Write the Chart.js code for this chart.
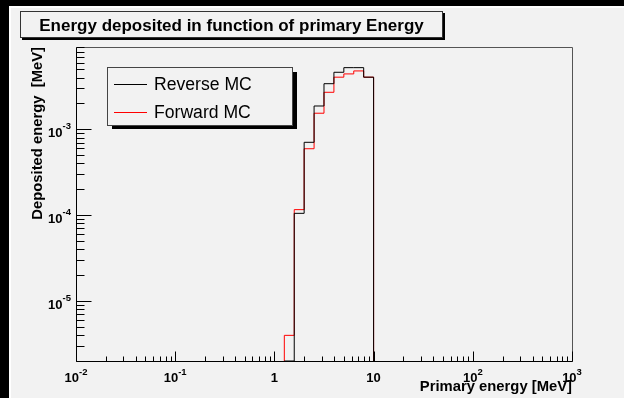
<!DOCTYPE html>
<html><head><meta charset="utf-8">
<script src="https://cdn.jsdelivr.net/npm/chart.js@4/dist/chart.umd.min.js"></script>
<style>html,body{margin:0;padding:0;background:#000;}canvas{display:block;}</style>
</head><body>
<div style="width:624px;height:398px;"><canvas id="c" width="624" height="398"></canvas></div>
<script>
// ---- data ----
const chartTitle = 'Energy deposited in function of primary Energy';
const xAxisTitle = 'Primary energy [MeV]';
const yAxisTitle = 'Deposited energy  [MeV]';
const seriesNames = ['Reverse MC', 'Forward MC'];
// bin edges (MeV) of the non-empty bins
const binEdges = [1.259, 1.585, 1.995, 2.512, 3.162, 3.981, 5.012, 6.310, 7.943, 10.0];
// deposited energy per bin (MeV)
const reverseMC = [0, 1.05e-4, 7.06e-4, 1.87e-3, 3.40e-3, 4.62e-3, 5.23e-3, 5.23e-3, 4.05e-3];
const forwardMC = [3.98e-6, 1.16e-4, 5.94e-4, 1.54e-3, 2.70e-3, 4.05e-3, 4.42e-3, 4.79e-3, 4.05e-3];
// tick labels
const xTickValues = [0.01, 0.1, 1, 10, 100, 1000];
const xTickBases  = ['10', '10', '1', '10', '10', '10'];
const xTickExps   = ['-2', '-1', '', '', '2', '3'];
const yTickValues = [1e-5, 1e-4, 1e-3];
const yTickBases  = ['10', '10', '10'];
const yTickExps   = ['-5', '-4', '-3'];
const xRange = [0.01, 1000];
const yRange = [2e-6, 9.1e-3];

function histPoints(values) {
  const pts = [{x: binEdges[0], y: yRange[0]}];
  values.forEach((v, i) => pts.push({x: binEdges[i + 1], y: v > 0 ? v : yRange[0]}));
  pts.push({x: binEdges[binEdges.length - 1], y: yRange[0]});
  return pts;
}

const GRAY = '#f2f2f2';
const FONT = '"Liberation Sans", Arial, Helvetica, sans-serif';

function drawPow(ctx, base, exp, x, y, align) {
  ctx.font = 'bold 13px ' + FONT;
  const wb = ctx.measureText(base).width;
  ctx.font = 'bold 9.5px ' + FONT;
  const we = exp ? ctx.measureText(exp).width : 0;
  const total = wb + we;
  let x0 = align === 'center' ? x - total / 2 : x - total;
  ctx.textAlign = 'left';
  ctx.textBaseline = 'alphabetic';
  ctx.font = 'bold 13px ' + FONT;
  ctx.fillText(base, x0, y);
  if (exp) {
    ctx.font = 'bold 9.5px ' + FONT;
    ctx.fillText(exp, x0 + wb, y - 7.5);
  }
}

const rootStyle = {
  id: 'rootStyle',
  beforeDraw(chart) {
    const ctx = chart.ctx, W = chart.width, H = chart.height;
    ctx.save();
    ctx.fillStyle = '#000'; ctx.fillRect(0, 0, W, H);
    ctx.fillStyle = '#ffffff'; ctx.fillRect(9, 6, W - 9, H - 6);
    ctx.fillStyle = GRAY; ctx.fillRect(11, 8, W - 11, H - 8);
    ctx.restore();
  },
  afterDatasetsDraw(chart) {
    const ctx = chart.ctx, a = chart.chartArea;
    const xs = chart.scales.x, ys = chart.scales.y;
    const L = Math.round(a.left) + 0.5, R = Math.round(a.right) + 0.5;
    const T = Math.round(a.top) + 0.5, B = Math.round(a.bottom) + 0.5;
    ctx.save();
    // frame
    ctx.lineWidth = 1;
    ctx.strokeStyle = '#555';
    ctx.beginPath(); ctx.moveTo(L, T); ctx.lineTo(R, T); ctx.lineTo(R, B); ctx.stroke();
    ctx.strokeStyle = '#000';
    ctx.beginPath(); ctx.moveTo(L, T); ctx.lineTo(L, B); ctx.lineTo(R, B); ctx.stroke();
    // x ticks
    ctx.beginPath();
    for (let d = -2; d < 3; d++) {
      for (let m = 1; m <= 9; m++) {
        const v = m * Math.pow(10, d);
        const px = Math.round(xs.getPixelForValue(v)) + 0.5;
        const len = m === 1 ? 10 : 5;
        ctx.moveTo(px, B); ctx.lineTo(px, B - len);
      }
    }
    const pxEnd = Math.round(xs.getPixelForValue(1000)) + 0.5;
    ctx.moveTo(pxEnd, B); ctx.lineTo(pxEnd, B - 10);
    // y ticks
    for (let d = -6; d <= -3; d++) {
      for (let m = 1; m <= 9; m++) {
        const v = m * Math.pow(10, d);
        if (v < yRange[0] * 0.999 || v > yRange[1]) continue;
        const py = Math.round(ys.getPixelForValue(v)) + 0.5;
        const len = m === 1 ? 15 : 8;
        ctx.moveTo(L, py); ctx.lineTo(L + len, py);
      }
    }
    ctx.stroke();
    // tick labels
    ctx.fillStyle = '#000';
    xTickValues.forEach((v, i) => {
      drawPow(ctx, xTickBases[i], xTickExps[i], xs.getPixelForValue(v), 382, 'center');
    });
    yTickValues.forEach((v, i) => {
      drawPow(ctx, yTickBases[i], yTickExps[i], 71, ys.getPixelForValue(v) + 7.5, 'right');
    });
    // axis titles
    ctx.font = 'bold 14.8px ' + FONT;
    ctx.textAlign = 'right'; ctx.textBaseline = 'alphabetic';
    ctx.fillText(xAxisTitle, a.right, 391);
    ctx.save();
    ctx.translate(41.5, a.top);
    ctx.rotate(-Math.PI / 2);
    ctx.fillText(yAxisTitle, 0, 0);
    ctx.restore();
    // legend
    const lx = 107, ly = 67, lw = 186, lh = 59;
    ctx.fillStyle = '#000';
    ctx.fillRect(lx + 5, ly + 5, lw - 1, lh - 2);
    ctx.fillStyle = GRAY;
    ctx.fillRect(lx, ly, lw, lh);
    ctx.strokeStyle = '#444';
    ctx.strokeRect(lx + 0.5, ly + 0.5, lw - 1, lh - 1);
    const rows = [84.5, 112.5];
    chart.data.datasets.forEach((ds, i) => {
      ctx.strokeStyle = ds.borderColor;
      ctx.lineWidth = 1;
      ctx.beginPath(); ctx.moveTo(114, rows[i]); ctx.lineTo(147, rows[i]); ctx.stroke();
      ctx.fillStyle = '#000';
      ctx.font = '17.6px ' + FONT;
      ctx.textAlign = 'left'; ctx.textBaseline = 'middle';
      ctx.fillText(ds.label, 154, rows[i] + 1);
    });
    // title box
    const tx = 20, ty = 11, tw = 423, th = 27;
    ctx.fillStyle = '#000';
    ctx.fillRect(tx + 2, ty + 2, tw, th);
    ctx.fillStyle = GRAY;
    ctx.fillRect(tx, ty, tw, th);
    ctx.strokeStyle = '#333';
    ctx.strokeRect(tx + 0.5, ty + 0.5, tw - 1, th - 1);
    ctx.fillStyle = '#000';
    ctx.font = 'bold 17px ' + FONT;
    ctx.textAlign = 'center'; ctx.textBaseline = 'alphabetic';
    ctx.fillText(chartTitle, tx + tw / 2, 31);
    ctx.restore();
  }
};

new Chart(document.getElementById('c'), {
  type: 'scatter',
  data: {
    datasets: [
      { label: seriesNames[0], data: histPoints(reverseMC), borderColor: '#000000',
        showLine: true, stepped: 'after', pointRadius: 0, borderWidth: 1, fill: false },
      { label: seriesNames[1], data: histPoints(forwardMC), borderColor: '#ff0000',
        showLine: true, stepped: 'after', pointRadius: 0, borderWidth: 1, fill: false }
    ]
  },
  options: {
    responsive: false,
    animation: false,
    events: [],
    layout: { padding: { left: 76, right: 52, top: 47, bottom: 37 } },
    scales: {
      x: { type: 'logarithmic', min: xRange[0], max: xRange[1], display: false },
      y: { type: 'logarithmic', min: yRange[0], max: yRange[1], display: false }
    },
    plugins: { legend: { display: false }, title: { display: false }, tooltip: { enabled: false } }
  },
  plugins: [rootStyle]
});
</script>
</body></html>
